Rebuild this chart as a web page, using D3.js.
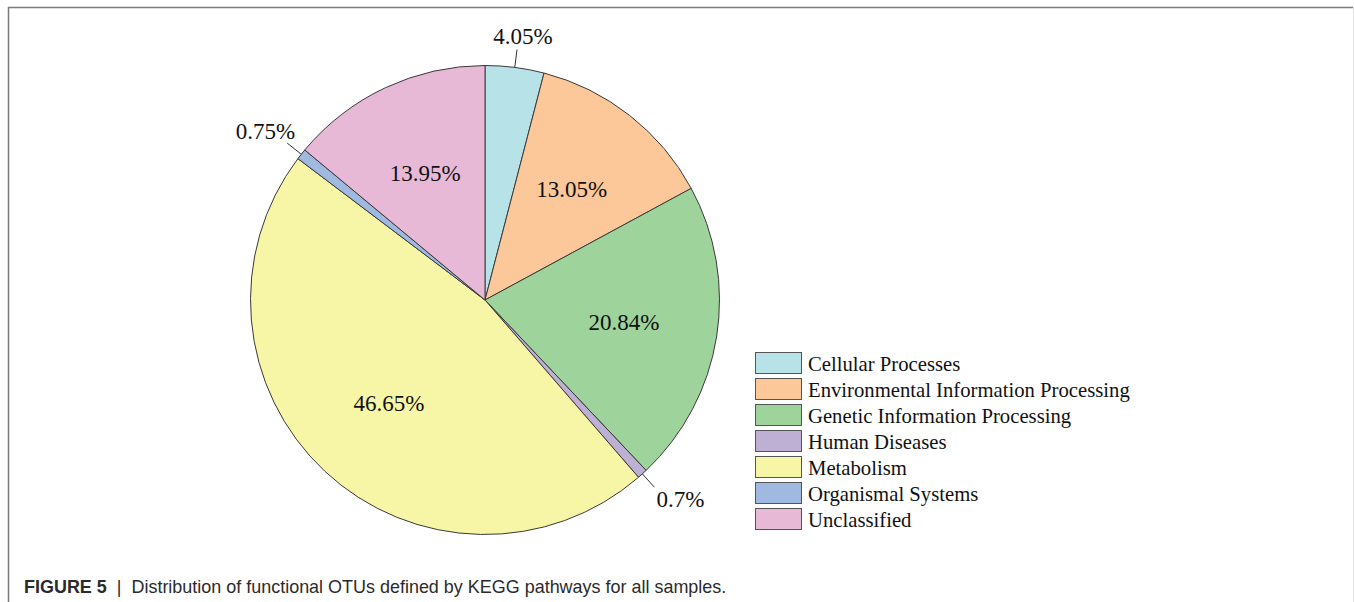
<!DOCTYPE html>
<html>
<head>
<meta charset="utf-8">
<script src="https://cdn.jsdelivr.net/npm/d3@7"></script>
<style>
  html, body { margin: 0; padding: 0; background: #fff; }
  svg { display: block; }
</style>
</head>
<body>
<svg id="chart" width="1354" height="602"></svg>
<script>
const categories = [
  "Cellular Processes",
  "Environmental Information Processing",
  "Genetic Information Processing",
  "Human Diseases",
  "Metabolism",
  "Organismal Systems",
  "Unclassified"
];
const values = [4.05, 13.05, 20.84, 0.7, 46.65, 0.75, 13.95];
const labels = ["4.05%", "13.05%", "20.84%", "0.7%", "46.65%", "0.75%", "13.95%"];
const colors = ["#b7e2e7", "#fcc799", "#9ed39c", "#beb0d4", "#f7f5a6", "#9fb9e0", "#e8b9d7"];
const captionBold = "FIGURE 5";
const captionText = "Distribution of functional OTUs defined by KEGG pathways for all samples.";

const svg = d3.select("#chart");
const W = 1354, H = 602;

// frame
svg.append("line").attr("x1", 8).attr("y1", 7.5).attr("x2", 1353).attr("y2", 7.5)
  .attr("stroke", "#7a7a7a").attr("stroke-width", 1.5);
svg.append("line").attr("x1", 8.5).attr("y1", 7).attr("x2", 8.5).attr("y2", H)
  .attr("stroke", "#7a7a7a").attr("stroke-width", 1.5);
svg.append("line").attr("x1", 1353.5).attr("y1", 7).attr("x2", 1353.5).attr("y2", H)
  .attr("stroke", "#e4e4e4").attr("stroke-width", 1);

const cx = 485, cy = 300, R = 234.5;
const data = categories.map((c, i) => ({ name: c, value: values[i], label: labels[i], color: colors[i] }));

const pie = d3.pie().value(d => d.value).sort(null).startAngle(0).endAngle(2 * Math.PI);
const arcs = pie(data);
const arc = d3.arc().innerRadius(0).outerRadius(R);

const g = svg.append("g").attr("transform", `translate(${cx},${cy})`);
g.selectAll("path.slice").data(arcs).enter().append("path")
  .attr("class", "slice")
  .attr("d", arc)
  .attr("fill", d => d.data.color)
  .attr("stroke", "#3a3a3a")
  .attr("stroke-width", 1)
  .attr("stroke-linejoin", "round");

const serif = "'Liberation Serif', 'Times New Roman', serif";
const fs = 23;
const inner = d3.arc().innerRadius(R * 0.6).outerRadius(R * 0.6);

arcs.forEach(d => {
  const mid = (d.startAngle + d.endAngle) / 2;
  const sx = Math.sin(mid), sy = -Math.cos(mid);
  const share = (d.endAngle - d.startAngle) / (2 * Math.PI);
  if (share > 0.05) {
    const [x, y] = inner.centroid(d);
    g.append("text").attr("x", x).attr("y", y).attr("dy", "0.35em")
      .attr("text-anchor", "middle")
      .attr("font-family", serif).attr("font-size", fs).attr("fill", "#111")
      .text(d.data.label);
  } else {
    const L = 18;
    const ex = sx * (R + L), ey = sy * (R + L);
    g.append("line")
      .attr("x1", sx * R).attr("y1", sy * R)
      .attr("x2", ex).attr("y2", ey)
      .attr("stroke", "#333").attr("stroke-width", 1);
    let tx, ty, anchor;
    if (sx > 0.3) { anchor = "start"; tx = ex + 2; ty = ey + 4 + fs * 0.68; }
    else if (sx < -0.3) { anchor = "end"; tx = ex + 8; ty = ey - 4; }
    else { anchor = "middle"; tx = ex + 6; ty = ey - 6; }
    g.append("text").attr("x", tx).attr("y", ty)
      .attr("text-anchor", anchor)
      .attr("font-family", serif).attr("font-size", fs).attr("fill", "#111")
      .text(d.data.label);
  }
});

// legend
const legend = svg.append("g").attr("transform", "translate(755,352)");
const rowH = 26;
const items = legend.selectAll("g.item").data(data).enter().append("g")
  .attr("class", "item")
  .attr("transform", (d, i) => `translate(0,${i * rowH})`);
items.append("rect").attr("x", 0.5).attr("y", 0.5).attr("width", 46).attr("height", 21)
  .attr("fill", d => d.color).attr("stroke", "#555").attr("stroke-width", 1);
items.append("text").attr("x", 53).attr("y", 11.5).attr("dy", "0.35em")
  .attr("font-family", serif).attr("font-size", 20.7).attr("fill", "#111")
  .text(d => d.name);

// caption
const cap = svg.append("text").attr("x", 0).attr("y", 0)
  .attr("font-family", "'Liberation Sans', Arial, sans-serif")
  .attr("font-size", 18).attr("fill", "#2b2b2b");
cap.append("tspan").attr("font-weight", "bold").text(captionBold);
cap.append("tspan").attr("dx", 10).text("|");
cap.append("tspan").attr("dx", 10).text(captionText);
const bb = cap.node().getBBox();
const k = 703 / bb.width;
cap.attr("transform", `translate(24,593) scale(${k},1)`);
</script>
</body>
</html>
